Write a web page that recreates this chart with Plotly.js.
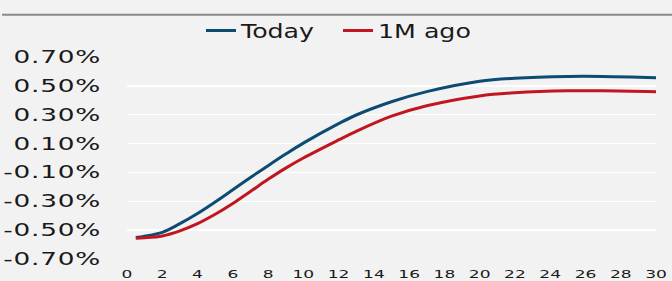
<!DOCTYPE html>
<html>
<head>
<meta charset="utf-8">
<script src="https://cdn.plot.ly/plotly-3.0.1.min.js"></script>
<style>
  html, body { margin: 0; padding: 0; background: #f2f2f2; }
  #chart { width: 672px; height: 281px; }
  .ytick text { letter-spacing: 0.5px; }
</style>
</head>
<body>
<div id="chart"></div>
<script>
// Maturities (years)
const tenors = [0.5, 1, 2, 3, 4, 5, 6, 7, 8, 9, 10, 12, 13, 15, 17, 20, 22, 25, 27, 30];
// Yield curve today (%)
const today = [-0.551, -0.542, -0.515, -0.455, -0.385, -0.305, -0.22, -0.135, -0.053, 0.027, 0.103, 0.238, 0.298, 0.39, 0.46, 0.532, 0.553, 0.565, 0.565, 0.557];
// Yield curve one month ago (%)
const monthAgo = [-0.556, -0.553, -0.54, -0.505, -0.455, -0.39, -0.315, -0.232, -0.148, -0.07, 0.0, 0.125, 0.185, 0.29, 0.362, 0.43, 0.452, 0.466, 0.466, 0.46];
// Axis ticks
const yTicks = [-0.7, -0.5, -0.3, -0.1, 0.1, 0.3, 0.5, 0.7];
const yTickLabels = ["-0.70%", "-0.50%", "-0.30%", "-0.10%", "0.10%", "0.30%", "0.50%", "0.70%"];
const xTicks = [0, 2, 4, 6, 8, 10, 12, 14, 16, 18, 20, 22, 24, 26, 28, 30];

const font = "DejaVu Sans, Verdana, sans-serif";

const traces = [
  { x: tenors, y: today, name: "Today", type: "scatter", mode: "lines",
    line: { color: "#0d4b72", width: 3, shape: "spline", smoothing: 1 } },
  { x: tenors, y: monthAgo, name: "1M ago", type: "scatter", mode: "lines",
    line: { color: "#c0161f", width: 3, shape: "spline", smoothing: 1 } }
];

const layout = {
  width: 672, height: 281,
  margin: { l: 127, r: 16, t: 49, b: 22 },
  paper_bgcolor: "#f2f2f2",
  plot_bgcolor: "#f2f2f2",
  font: { family: font, color: "#1a1a1a" },
  showlegend: true,
  legend: {
    orientation: "h", x: (201 - 127) / 529, xanchor: "left", y: 1.13, yanchor: "middle",
    font: { size: 19, family: font, color: "#1a1a1a" },
    bgcolor: "rgba(0,0,0,0)", entrywidth: 92, entrywidthmode: "pixels",
    tracegroupgap: 0, borderwidth: 0
  },
  xaxis: {
    range: [0, 30], tickvals: xTicks, ticktext: xTicks.map(String),
    showgrid: false, zeroline: false, showline: false, ticks: "",
    tickfont: { size: 11, family: font, color: "#1a1a1a" },
    ticklabelstandoff: 7, fixedrange: true
  },
  yaxis: {
    range: [-0.7, 0.7], tickvals: yTicks, ticktext: yTickLabels,
    showgrid: true, gridcolor: "#ffffff", gridwidth: 1.5,
    zeroline: false, showline: false, ticks: "",
    tickfont: { size: 17, family: font, color: "#1a1a1a" },
    ticklabelstandoff: 25, fixedrange: true
  },
  shapes: [{
    type: "line", xref: "paper", yref: "paper",
    x0: (2 - 127) / 529, x1: (672 - 127) / 529,
    y0: (259 - 5) / 210, y1: (259 - 5) / 210,
    line: { color: "#8a8a8a", width: 2 }
  }]
};

// Stretch text horizontally around its anchor to mimic the wide typeface
function stretch(sel, s) {
  document.querySelectorAll(sel).forEach(function (t) {
    const X = parseFloat(t.getAttribute("x") || 0);
    const tr = t.getAttribute("transform") || "";
    t.setAttribute("transform", tr + " translate(" + X + ",0) scale(" + s + ",1) translate(" + (-X) + ",0)");
  });
}

Plotly.newPlot("chart", traces, layout, { displayModeBar: false, staticPlot: true }).then(function () {
  stretch("#chart .ytick text", 1.55);
  stretch("#chart .xtick text", 1.55);
  stretch("#chart .legendtext", 1.33);
});
</script>
</body>
</html>
